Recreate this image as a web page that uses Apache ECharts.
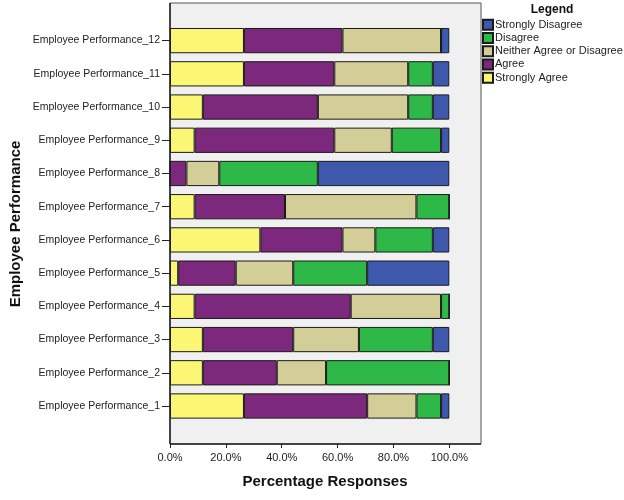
<!DOCTYPE html>
<html>
<head>
<meta charset="utf-8">
<script src="https://cdn.jsdelivr.net/npm/echarts@6/dist/echarts.min.js"></script>
<style>html,body{margin:0;padding:0;background:#fff;}#c{width:624px;height:500px;}</style>
</head>
<body>
<div id="c"></div>
<script>
var categories = ['Employee Performance_1','Employee Performance_2','Employee Performance_3','Employee Performance_4','Employee Performance_5','Employee Performance_6','Employee Performance_7','Employee Performance_8','Employee Performance_9','Employee Performance_10','Employee Performance_11','Employee Performance_12'];
var xTicks = [0, 20, 40, 60, 80, 100];
var stronglyAgree    = [26.47, 11.76, 11.76,  8.82,  2.94, 32.35,  8.82,  0.00,  8.82, 11.76, 26.47, 26.47];
var agree            = [44.12, 26.47, 32.35, 55.88, 20.59, 29.41, 32.35,  5.88, 50.00, 41.18, 32.35, 35.29];
var neither          = [17.65, 17.65, 23.53, 32.35, 20.59, 11.76, 47.06, 11.76, 20.59, 32.35, 26.47, 35.29];
var disagree         = [ 8.82, 44.12, 26.47,  2.94, 26.47, 20.59, 11.76, 35.29, 17.65,  8.82,  8.82,  0.00];
var stronglyDisagree = [ 2.94,  0.00,  5.88,  0.00, 29.41,  5.88,  0.00, 47.06,  2.94,  5.88,  5.88,  2.94];
var seriesNames = ['Strongly Agree','Agree','Neither Agree or Disagree','Disagree','Strongly Disagree'];
var legendOrder = ['Strongly Disagree','Disagree','Neither Agree or Disagree','Agree','Strongly Agree'];
var colors = ['#fbf673','#7c287d','#d3ce97','#2eb848','#3e58ac'];
var values = [stronglyAgree, agree, neither, disagree, stronglyDisagree];

var FONT = 'Liberation Sans, Arial, sans-serif';
var chart = echarts.init(document.getElementById('c'), null, {renderer:'canvas'});
var series = seriesNames.map(function(n, i){
  return {
    name: n, type: 'bar', stack: 'total', data: values[i],
    barCategoryGap: '24%',
    itemStyle: {color: colors[i], borderColor: '#1a1a1a', borderWidth: 1},
    emphasis: {disabled: true},
    z: 5
  };
});
chart.setOption({
  animation: false,
  backgroundColor: '#ffffff',
  textStyle: {fontFamily: FONT},
  grid: {left: 170, top: 24, width: 279.3, height: 398.6, containLabel: false},
  xAxis: {
    type: 'value', min: 0, max: 100, interval: 20,
    offset: 21.4,
    axisLine: {show: false},
    axisTick: {show: true, length: 4, lineStyle: {color: '#222'}},
    splitLine: {show: false},
    axisLabel: {fontSize: 11, color: '#222', margin: 8, fontFamily: FONT,
      formatter: function(v){ return xTicks.indexOf(v) >= 0 ? v.toFixed(1) + '%' : ''; }}
  },
  yAxis: {
    type: 'category', data: categories,
    axisLine: {show: false},
    axisTick: {show: true, alignWithLabel: true, length: 8, lineStyle: {color: '#222'}},
    axisLabel: {fontSize: 10.5, color: '#222', margin: 10, fontFamily: FONT}
  },
  legend: {
    orient: 'vertical', left: 482, top: 18, padding: 0,
    data: legendOrder,
    icon: 'rect', itemWidth: 10, itemHeight: 10, itemGap: 0,
    textStyle: {fontSize: 11, lineHeight: 13.25, color: '#222', fontFamily: FONT, padding: [0, 0, 0, -3]},
    selectedMode: false
  },
  graphic: [
    {type: 'rect', shape: {x: 170, y: 3, width: 311, height: 441}, style: {fill: '#f0f0f0', stroke: '#555', lineWidth: 1}, z: 0, silent: true},
    {type: 'line', shape: {x1: 170, y1: 3, x2: 170, y2: 444}, style: {stroke: '#222', lineWidth: 1.5}, z: 10, silent: true},
    {type: 'line', shape: {x1: 170, y1: 444, x2: 481, y2: 444}, style: {stroke: '#222', lineWidth: 1.5}, z: 10, silent: true},
    {type: 'text', x: 552, y: 10, style: {text: 'Legend', font: 'bold 12px ' + FONT, fill: '#111', textAlign: 'center', textVerticalAlign: 'middle'}, z: 10, silent: true},
    {type: 'text', x: 325, y: 482, style: {text: 'Percentage Responses', font: 'bold 15px ' + FONT, fill: '#111', textAlign: 'center', textVerticalAlign: 'middle'}, z: 10, silent: true},
    {type: 'text', x: 16, y: 224, rotation: Math.PI / 2, style: {text: 'Employee Performance', font: 'bold 15px ' + FONT, fill: '#111', textAlign: 'center', textVerticalAlign: 'middle'}, z: 10, silent: true}
  ],
  series: series
});
</script>
</body>
</html>
